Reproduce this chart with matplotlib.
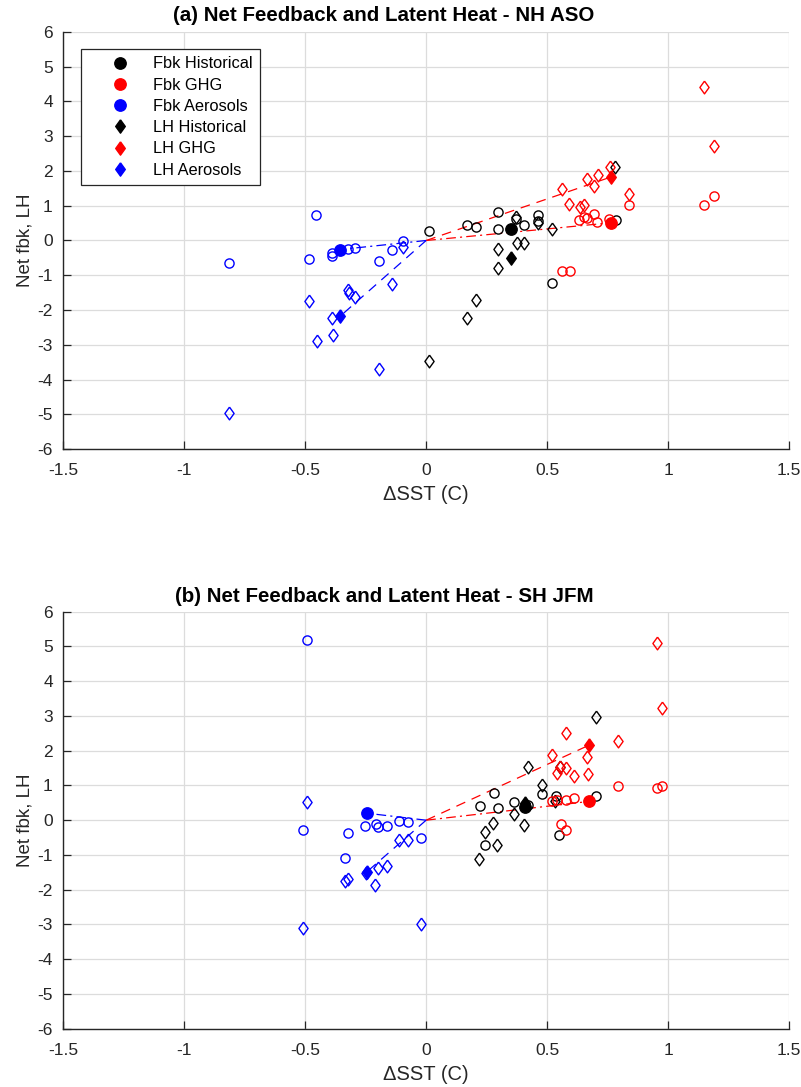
"""
Net feedback and latent heat vs SST change, two seasons/hemispheres.
"""

import matplotlib

matplotlib.use("Agg")
import matplotlib.pyplot as plt
from matplotlib.lines import Line2D

plt.rcParams["font.family"] = ["Liberation Sans", "DejaVu Sans"]
plt.rcParams["lines.scale_dashes"] = False

# ---- (a) NH ASO ----
fbk_hist_a_x = [0.171, 0.205, 0.296, 0.296, 0.373, 0.403, 0.464, 0.464, 0.783, 0.522, 0.010]
fbk_hist_a_y = [0.44, 0.39, 0.82, 0.32, 0.63, 0.44, 0.73, 0.55, 0.58, -1.22, 0.27]
lh_hist_a_x = [0.779, 0.370, 0.464, 0.522, 0.296, 0.376, 0.403, 0.296, 0.205, 0.167, 0.010]
lh_hist_a_y = [2.10, 0.68, 0.49, 0.34, -0.25, -0.07, -0.07, -0.80, -1.70, -2.24, -3.47]
fbk_ghg_a_x = [1.150, 1.190, 0.838, 0.632, 0.652, 0.663, 0.696, 0.708, 0.757, 0.561, 0.594]
fbk_ghg_a_y = [1.01, 1.28, 1.01, 0.58, 0.68, 0.66, 0.75, 0.53, 0.63, -0.87, -0.87]
lh_ghg_a_x = [1.150, 1.190, 0.761, 0.664, 0.710, 0.696, 0.562, 0.590, 0.635, 0.652, 0.839]
lh_ghg_a_y = [4.41, 2.73, 2.11, 1.78, 1.88, 1.56, 1.47, 1.04, 0.97, 1.01, 1.35]
fbk_aer_a_x = [-0.813, -0.454, -0.486, -0.389, -0.389, -0.324, -0.294, -0.193, -0.140, -0.094]
fbk_aer_a_y = [-0.64, 0.74, -0.53, -0.45, -0.37, -0.23, -0.21, -0.59, -0.28, -0.01]
lh_aer_a_x = [-0.813, -0.486, -0.453, -0.386, -0.390, -0.324, -0.317, -0.294, -0.193, -0.142, -0.094]
lh_aer_a_y = [-4.97, -1.74, -2.89, -2.72, -2.24, -1.43, -1.52, -1.62, -3.68, -1.24, -0.18]
# ensemble means: historical, GHG, aerosols
mean_sst_a = [0.349, 0.766, -0.356]
mean_fbk_a = [0.34, 0.51, -0.26]
mean_lh_a = [-0.50, 1.83, -2.18]

# ---- (b) SH JFM ----
fbk_hist_b_x = [0.221, 0.279, 0.296, 0.245, 0.362, 0.421, 0.481, 0.535, 0.704, 0.550]
fbk_hist_b_y = [0.42, 0.78, 0.35, -0.71, 0.51, 0.44, 0.76, 0.71, 0.71, -0.44]
lh_hist_b_x = [0.704, 0.420, 0.481, 0.532, 0.552, 0.362, 0.276, 0.245, 0.294, 0.403, 0.218]
lh_hist_b_y = [2.98, 1.54, 1.01, 0.54, 1.54, 0.18, -0.07, -0.35, -0.71, -0.13, -1.12]
fbk_ghg_b_x = [0.794, 0.953, 0.976, 0.522, 0.539, 0.577, 0.612, 0.557, 0.580]
fbk_ghg_b_y = [0.99, 0.94, 0.99, 0.54, 0.58, 0.58, 0.63, -0.11, -0.28]
lh_ghg_b_x = [0.953, 0.976, 0.794, 0.577, 0.522, 0.664, 0.552, 0.577, 0.539, 0.612, 0.670]
lh_ghg_b_y = [5.10, 3.22, 2.28, 2.50, 1.88, 1.81, 1.54, 1.49, 1.37, 1.28, 1.33]
fbk_aer_b_x = [-0.494, -0.509, -0.323, -0.334, -0.251, -0.207, -0.197, -0.163, -0.114, -0.073, -0.023]
fbk_aer_b_y = [5.18, -0.28, -0.36, -1.10, -0.16, -0.11, -0.20, -0.16, -0.01, -0.04, -0.52]
lh_aer_b_x = [-0.494, -0.509, -0.023, -0.334, -0.324, -0.248, -0.197, -0.163, -0.210, -0.113, -0.073]
lh_aer_b_y = [0.51, -3.10, -2.98, -1.76, -1.70, -1.52, -1.38, -1.31, -1.86, -0.57, -0.57]
mean_sst_b = [0.410, 0.674, -0.244]
mean_fbk_b = [0.39, 0.54, 0.20]
mean_lh_b = [0.49, 2.16, -1.48]

titles = [
    "(a) Net Feedback and Latent Heat - NH ASO",
    "(b) Net Feedback and Latent Heat - SH JFM",
]
legend_labels = ["Fbk Historical", "Fbk GHG", "Fbk Aerosols",
                 "LH Historical", "LH GHG", "LH Aerosols"]
x_ticks = [-1.5, -1, -0.5, 0, 0.5, 1, 1.5]
y_ticks = list(range(-6, 7))

colors = ["black", "red", "blue"]  # historical, GHG, aerosols
DIAMOND = [(0, 1), (0.72, 0), (0, -1), (-0.72, 0), (0, 1)]
AX_COLOR = "#262626"


def draw_panel(ax, fbk, lh, msst, mfbk, mlh):
    # origin-to-mean lines for GHG and aerosols (not historical)
    for k in (1, 2):
        ax.plot([0, msst[k]], [0, mfbk[k]], color=colors[k], lw=0.9,
                dashes=(7, 3, 1.5, 3), zorder=3)
        ax.plot([0, msst[k]], [0, mlh[k]], color=colors[k], lw=0.9,
                dashes=(7, 5), zorder=3)

    for k in range(3):
        ax.plot(fbk[k][0], fbk[k][1], linestyle="none", marker="o", ms=6.6,
                mfc="none", mec=colors[k], mew=1.0, zorder=4)
        ax.plot(lh[k][0], lh[k][1], linestyle="none", marker=DIAMOND, ms=9.2,
                mfc="none", mec=colors[k], mew=1.0, zorder=4)
    for k in range(3):
        ax.plot(msst[k], mfbk[k], linestyle="none", marker="o", ms=8.2,
                color=colors[k], zorder=5)
        ax.plot(msst[k], mlh[k], linestyle="none", marker=DIAMOND, ms=9.6,
                color=colors[k], zorder=5)

    ax.set_xlim(-1.5, 1.5)
    ax.set_ylim(-6, 6)
    ax.set_xticks(x_ticks)
    ax.set_xticklabels(["-1.5", "-1", "-0.5", "0", "0.5", "1", "1.5"])
    ax.set_yticks(y_ticks)
    ax.set_yticklabels([str(v) for v in y_ticks])
    ax.grid(True, color="#dcdcdc", lw=0.9)
    ax.set_axisbelow(True)
    for side in ("top", "right"):
        ax.spines[side].set_visible(False)
    for side in ("left", "bottom"):
        ax.spines[side].set_color(AX_COLOR)
        ax.spines[side].set_linewidth(1.0)
    ax.tick_params(direction="in", length=5.5, width=0.9, colors=AX_COLOR,
                   labelsize=12.5, labelcolor=AX_COLOR)
    ax.tick_params(axis="x", pad=10)
    ax.tick_params(axis="y", pad=7.5)
    ax.set_xlabel("\u0394SST (C)", fontsize=14.5, color=AX_COLOR, labelpad=5)
    ax.set_ylabel("Net fbk, LH", fontsize=13.5, color=AX_COLOR, labelpad=3)


fig = plt.figure(figsize=(8.01, 10.87), dpi=100)
ax_a = fig.add_axes([0.0790, 0.5867, 0.9060, 0.3841])
ax_b = fig.add_axes([0.0790, 0.0536, 0.9060, 0.3837])

draw_panel(
    ax_a,
    [(fbk_hist_a_x, fbk_hist_a_y), (fbk_ghg_a_x, fbk_ghg_a_y), (fbk_aer_a_x, fbk_aer_a_y)],
    [(lh_hist_a_x, lh_hist_a_y), (lh_ghg_a_x, lh_ghg_a_y), (lh_aer_a_x, lh_aer_a_y)],
    mean_sst_a, mean_fbk_a, mean_lh_a,
)
draw_panel(
    ax_b,
    [(fbk_hist_b_x, fbk_hist_b_y), (fbk_ghg_b_x, fbk_ghg_b_y), (fbk_aer_b_x, fbk_aer_b_y)],
    [(lh_hist_b_x, lh_hist_b_y), (lh_ghg_b_x, lh_ghg_b_y), (lh_aer_b_x, lh_aer_b_y)],
    mean_sst_b, mean_fbk_b, mean_lh_b,
)

# titles sit a bit left of the axes centre, as in the original
fig.text(0.479, 0.9862, titles[0], ha="center", va="center",
         fontsize=14.8, fontweight="bold")
fig.text(0.480, 0.4517, titles[1], ha="center", va="center",
         fontsize=14.8, fontweight="bold")

handles = []
for i, lab in enumerate(legend_labels):
    mk = "o" if i < 3 else DIAMOND
    handles.append(Line2D([], [], linestyle="none", marker=mk,
                          ms=8.2 if i < 3 else 9.6, color=colors[i % 3]))
leg = ax_a.legend(handles, legend_labels, loc="upper left",
                  bbox_to_anchor=(0.0244, 0.9586), borderaxespad=0,
                  fontsize=11.8, frameon=True, fancybox=False, framealpha=1,
                  edgecolor=AX_COLOR, handlelength=3.8, handletextpad=0.15,
                  labelspacing=0.38, borderpad=0.45)
leg.get_frame().set_linewidth(0.9)
leg.set_zorder(10)

fig.savefig("out.png", dpi=100)
